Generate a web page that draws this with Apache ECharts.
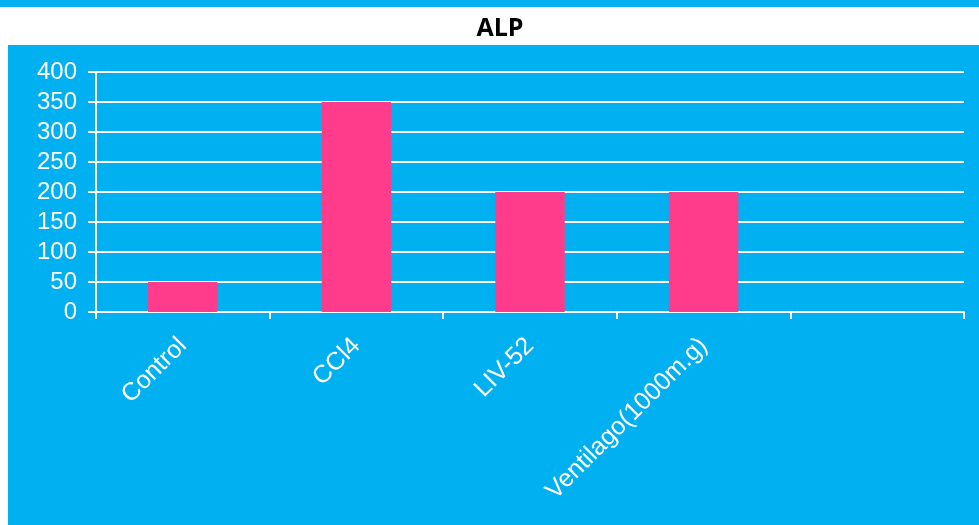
<!DOCTYPE html>
<html>
<head>
<meta charset="utf-8">
<script src="https://cdn.jsdelivr.net/npm/echarts@6/dist/echarts.min.js"></script>
<style>
  html, body { margin: 0; padding: 0; background: #00B0F0; }
  #chart { width: 979px; height: 525px; }
</style>
</head>
<body>
<div id="chart"></div>
<script>
// ALP levels per treatment group
const categories = ['Control', 'CCl4', 'LIV-52', 'Ventilago(1000m.g)', ''];
const alpValues = [50, 350, 200, 200, null];
const yTicks = { min: 0, max: 400, interval: 50 };
const titleText = 'ALP';

const chart = echarts.init(document.getElementById('chart'));
chart.setOption({
  backgroundColor: '#00B0F0',
  animation: false,
  graphic: [
    { type: 'rect', shape: { x: 0, y: 7, width: 979, height: 38 }, style: { fill: '#FFFFFF' }, z: 0 },
    { type: 'rect', shape: { x: 0, y: 45, width: 8, height: 480 }, style: { fill: '#FFFFFF' }, z: 0 }
  ],
  title: {
    text: titleText,
    left: 495,
    textAlign: 'center',
    top: 11,
    textStyle: { fontFamily: 'Open Sans', fontWeight: 'bold', fontSize: 25, color: '#000000' }
  },
  grid: { left: 96, right: 15, top: 72, bottom: 213, containLabel: false },
  xAxis: {
    type: 'category',
    data: categories,
    boundaryGap: true,
    axisLine: { show: true, lineStyle: { color: '#FFFFFF', width: 2 } },
    axisTick: { show: true, alignWithLabel: false, length: 7, lineStyle: { color: '#FFFFFF', width: 2 } },
    axisLabel: {
      interval: 0,
      rotate: 45,
      color: '#FFFFFF',
      fontFamily: 'Liberation Sans',
      fontSize: 25,
      margin: 30
    }
  },
  yAxis: {
    type: 'value',
    min: yTicks.min,
    max: yTicks.max,
    interval: yTicks.interval,
    axisLine: { show: true, lineStyle: { color: '#FFFFFF', width: 2 } },
    axisTick: { show: true, length: 8, lineStyle: { color: '#FFFFFF', width: 2 } },
    splitLine: { show: true, lineStyle: { color: '#FFFFFF', width: 2 } },
    axisLabel: {
      color: '#FFFFFF',
      fontFamily: 'Liberation Sans',
      fontSize: 24,
      margin: 19
    }
  },
  series: [{
    type: 'bar',
    data: alpValues,
    barWidth: '40%',
    itemStyle: { color: '#FF3B8B' }
  }]
});
</script>
</body>
</html>
